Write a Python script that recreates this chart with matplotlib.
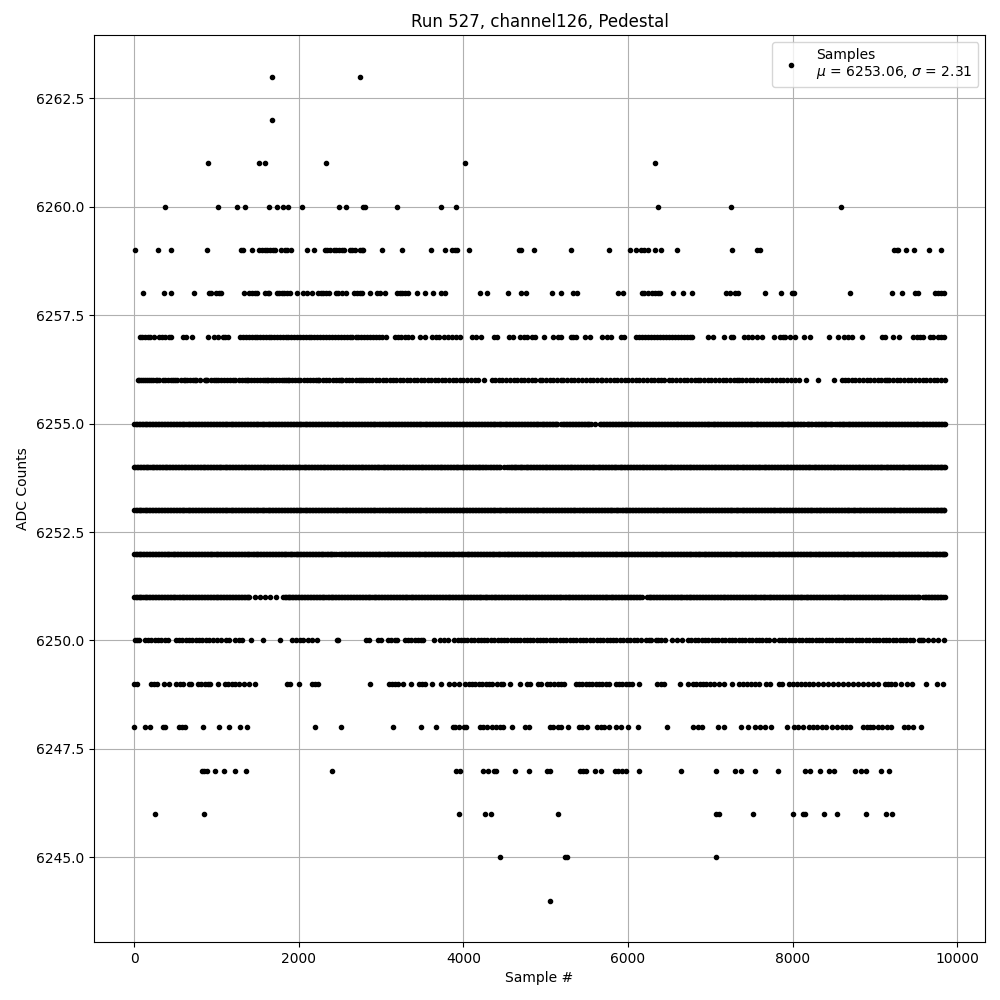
import matplotlib
matplotlib.use("Agg")
import matplotlib.pyplot as plt

# sample numbers, one list per ADC level
s6263 = [1670, 2740]
s6262 = [1670]
s6261 = [893, 1511, 1584, 2335, 4020, 6327]
s6260 = [372, 1014, 1244, 1341, 1632, 1741, 1814, 1866, 2044, 2489, 2569, 2784, 2804, 3196, 3729, 3911, 6364, 7248, 8594]
s6259 = [8, 287, 444, 881, 1297, 1325, 1426, 1519, 1551, 1584, 1616, 1648, 1681, 1713, 1778, 1830, 1862, 1903,
         2105, 2182, 2315, 2347, 2376, 2428, 2456, 2489, 2521, 2549, 2618, 2650, 2683, 2739, 2763, 2784, 3014,
         3256, 3608, 3777, 3862, 3895, 3927, 4068, 4670, 4695, 4856, 5309, 5770, 6020, 6093, 6162, 6194, 6242,
         6327, 6400, 6594, 7260, 7572, 7608, 9232, 9264, 9280, 9381, 9478, 9660, 9806]
s6258 = [105, 360, 444, 723, 905, 933, 994, 1026, 1058, 1329, 1398, 1430, 1462, 1495, 1592, 1624, 1640, 1729, 1761,
         1794, 1826, 1858, 1891, 1984, 2056, 2105, 2165, 2234, 2266, 2299, 2331, 2367, 2448, 2481, 2529, 2569, 2674,
         2707, 2739, 2771, 2860, 2945, 2982, 3050, 3196, 3228, 3260, 3289, 3329, 3438, 3531, 3632, 3729, 3781, 4202,
         4287, 4541, 4695, 4759, 5079, 5188, 5337, 5378, 5883, 5943, 6166, 6194, 6246, 6287, 6327, 6364, 6388, 6549,
         6663, 6776, 7196, 7236, 7301, 7341, 7660, 7862, 7992, 8020, 8703, 9212, 9333, 9487, 9527, 9729, 9770, 9810,
         9842]
s6257 = [65, 97, 129, 162, 186, 238, 307, 339, 372, 420, 452, 590, 630, 703, 897, 974, 1014, 1075, 1107, 1139,
         1288, 1325, 1358, 1395, 1430, 1462, 1495, 1530, 1562, 1598, 1632, 1665, 1700, 1735, 1768, 1805, 1840, 1872,
         1908, 1942, 1975, 2010, 2048, 2082, 2118, 2152, 2190, 2225, 2262, 2295, 2332, 2368, 2402, 2438, 2472, 2510,
         2545, 2580, 2618, 2652, 2690, 2725, 2760, 2798, 2832, 2870, 2905, 2940, 2978, 3015, 3062, 3163, 3204, 3244,
         3285, 3325, 3378, 3467, 3528, 3621, 3669, 3702, 3762, 3811, 3864, 3912, 3961, 4103, 4155, 4216, 4366, 4410,
         4560, 4601, 4682, 4731, 4779, 4828, 4876, 4974, 5095, 5144, 5184, 5305, 5337, 5366, 5479, 5539, 5689, 5741,
         5790, 5911, 5952, 6093, 6135, 6170, 6205, 6240, 6278, 6312, 6350, 6385, 6420, 6458, 6495, 6530, 6568, 6605,
         6640, 6680, 6715, 6750, 6780, 6974, 7030, 7172, 7256, 7277, 7406, 7454, 7507, 7568, 7628, 7770, 7850, 7883,
         7911, 7972, 8032, 8145, 8218, 8448, 8557, 8626, 8679, 8719, 8848, 9083, 9123, 9224, 9297, 9466, 9507, 9547,
         9588, 9668, 9709, 9769, 9810, 9838]
s6256 = [45, 62, 80, 110, 130, 150, 185, 205, 225, 262, 280, 300, 345, 372, 410, 452, 470, 490, 520, 565, 600, 620,
         640, 680, 712, 735, 755, 794, 855, 872, 890, 930, 975, 995, 1015, 1060, 1095, 1126, 1158, 1195, 1230, 1270,
         1305, 1345, 1365, 1385, 1420, 1455, 1490, 1525, 1560, 1590, 1608, 1625, 1660, 1690, 1720, 1755, 1790, 1820,
         1850, 1865, 1880, 1915, 1950, 1985, 2020, 2060, 2100, 2140, 2170, 2210, 2230, 2250, 2290, 2330, 2370, 2410,
         2450, 2490, 2510, 2530, 2570, 2610, 2650, 2695, 2735, 2755, 2775, 2815, 2855, 2895, 2940, 2980, 3020, 3060,
         3105, 3145, 3185, 3225, 3270, 3310, 3350, 3395, 3435, 3480, 3520, 3565, 3605, 3650, 3695, 3735, 3780, 3825,
         3872, 3912, 3955, 4000, 4050, 4095, 4140, 4176, 4248, 4350, 4390, 4435, 4475, 4520, 4565, 4610, 4650, 4695,
         4740, 4785, 4830, 4875, 4925, 4960, 5005, 5050, 5095, 5140, 5184, 5216, 5262, 5305, 5350, 5398, 5442, 5488,
         5535, 5580, 5625, 5669, 5689, 5735, 5778, 5825, 5870, 5915, 5958, 6004, 6050, 6095, 6140, 6185, 6228, 6275,
         6320, 6365, 6405, 6436, 6497, 6540, 6585, 6632, 6678, 6722, 6765, 6810, 6855, 6881, 6921, 6968, 7012, 7058,
         7105, 7150, 7195, 7240, 7285, 7330, 7345, 7386, 7432, 7478, 7525, 7570, 7615, 7660, 7705, 7750, 7795, 7842,
         7888, 7935, 7980, 8025, 8073, 8165, 8311, 8509, 8598, 8640, 8679, 8719, 8765, 8810, 8855, 8900, 8945, 8990,
         9035, 9080, 9125, 9143, 9175, 9220, 9265, 9310, 9355, 9400, 9445, 9490, 9535, 9580, 9625, 9670, 9715, 9760,
         9805, 9850]
s6255 = [0, 38, 70, 108, 142, 178, 215, 250, 288, 322, 360, 395, 430, 468, 502, 540, 575, 610, 648, 682, 720, 755,
         790, 828, 862, 900, 935, 970, 1008, 1042, 1080, 1115, 1150, 1188, 1222, 1260, 1295, 1330, 1368, 1402, 1440,
         1475, 1510, 1548, 1582, 1620, 1655, 1690, 1728, 1762, 1800, 1835, 1870, 1908, 1942, 1980, 2015, 2050, 2088,
         2122, 2160, 2195, 2230, 2268, 2302, 2340, 2375, 2410, 2448, 2482, 2520, 2555, 2590, 2628, 2662, 2700, 2735,
         2770, 2808, 2842, 2880, 2915, 2950, 2988, 3022, 3060, 3095, 3130, 3168, 3202, 3240, 3275, 3310, 3348, 3382,
         3420, 3455, 3490, 3528, 3562, 3600, 3635, 3670, 3708, 3742, 3780, 3815, 3850, 3888, 3922, 3960, 3995, 4030,
         4068, 4102, 4140, 4175, 4210, 4248, 4282, 4320, 4355, 4390, 4428, 4462, 4500, 4535, 4570, 4608, 4642, 4680,
         4715, 4750, 4788, 4822, 4860, 4895, 4930, 4968, 5002, 5040, 5075, 5110, 5143, 5190, 5228, 5262, 5300, 5335,
         5370, 5408, 5442, 5480, 5515, 5548, 5600, 5661, 5695, 5730, 5768, 5802, 5840, 5875, 5910, 5948, 5982, 6020,
         6055, 6090, 6128, 6162, 6200, 6235, 6270, 6308, 6342, 6380, 6415, 6450, 6488, 6522, 6560, 6595, 6630, 6668,
         6702, 6740, 6775, 6810, 6848, 6882, 6920, 6955, 6990, 7028, 7062, 7100, 7135, 7170, 7208, 7242, 7280, 7315,
         7350, 7388, 7422, 7460, 7495, 7530, 7568, 7602, 7640, 7675, 7710, 7748, 7782, 7820, 7855, 7890, 7928, 7962,
         8000, 8035, 8070, 8108, 8142, 8170, 8205, 8240, 8270, 8305, 8340, 8378, 8412, 8450, 8485, 8512, 8560, 8595,
         8630, 8668, 8702, 8740, 8775, 8810, 8848, 8882, 8920, 8955, 8990, 9028, 9062, 9100, 9135, 9170, 9208, 9242,
         9280, 9315, 9350, 9388, 9422, 9460, 9495, 9530, 9568, 9602, 9640, 9675, 9710, 9748, 9782, 9820, 9848]
s6255b = [18, 55, 90, 125, 160, 196, 232, 268, 305, 340, 378, 412, 450, 485, 520, 558, 592, 630, 665, 702, 738, 772,
          810, 845, 880, 918, 952, 990, 1025, 1062, 1098, 1132, 1170, 1205, 1242, 1278, 1312, 1350, 1385, 1422, 1458,
          1492, 1530, 1565, 1602, 1638, 1672, 1710, 1745, 1782, 1818, 1852, 1890, 1925, 1962, 1998, 2032, 2070, 2105,
          2142, 2178, 2212, 2250, 2285, 2322, 2358, 2392, 2430, 2465, 2502, 2538, 2572, 2610, 2645, 2682, 2718, 2752,
          2790, 2825, 2862, 2898, 2932, 2970, 3005, 3042, 3078, 3112, 3150, 3185, 3222, 3258, 3292, 3330, 3365, 3402,
          3438, 3472, 3510, 3545, 3582, 3618, 3652, 3690, 3725, 3762, 3798, 3832, 3870, 3905, 3942, 3978, 4012, 4050,
          4085, 4122, 4158, 4192, 4230, 4265, 4302, 4338, 4372, 4410, 4445, 4482, 4518, 4552, 4590, 4625, 4662, 4698,
          4732, 4770, 4805, 4842, 4878, 4912, 4950, 4985, 5022, 5058, 5092, 5126, 5210, 5245, 5282, 5318, 5352, 5390,
          5425, 5462, 5498, 5532, 5678, 5712, 5750, 5785, 5822, 5858, 5892, 5930, 5965, 6002, 6038, 6072, 6110, 6145,
          6182, 6218, 6252, 6290, 6325, 6362, 6398, 6432, 6470, 6505, 6542, 6578, 6612, 6650, 6685, 6722, 6758, 6792,
          6830, 6865, 6902, 6938, 6972, 7010, 7045, 7082, 7118, 7152, 7190, 7225, 7262, 7298, 7332, 7370, 7405, 7442,
          7478, 7512, 7550, 7585, 7622, 7658, 7692, 7730, 7765, 7802, 7838, 7872, 7910, 7945, 7982, 8018, 8052, 8090,
          8125, 8188, 8222, 8288, 8322, 8358, 8395, 8430, 8468, 8535, 8578, 8612, 8650, 8685, 8722, 8758, 8792, 8830,
          8865, 8902, 8938, 8972, 9010, 9045, 9082, 9118, 9152, 9190, 9225, 9262, 9298, 9332, 9370, 9405, 9442, 9478,
          9512, 9550, 9585, 9622, 9658, 9692, 9730, 9765, 9802, 9835]
s6254 = [0, 32, 68, 105, 140, 172, 210, 245, 280, 315, 352, 388, 420, 458, 492, 528, 565, 600, 632, 670, 705, 740,
         778, 812, 848, 885, 920, 952, 990, 1025, 1060, 1098, 1132, 1168, 1205, 1240, 1272, 1310, 1345, 1380, 1418,
         1452, 1488, 1525, 1560, 1592, 1630, 1665, 1700, 1738, 1772, 1808, 1845, 1880, 1912, 1950, 1985, 2020, 2058,
         2092, 2128, 2165, 2200, 2232, 2270, 2305, 2340, 2378, 2412, 2448, 2485, 2520, 2552, 2590, 2625, 2660, 2698,
         2732, 2768, 2805, 2840, 2872, 2910, 2945, 2980, 3018, 3052, 3088, 3125, 3160, 3192, 3230, 3265, 3300, 3338,
         3372, 3408, 3445, 3480, 3512, 3550, 3585, 3620, 3658, 3692, 3728, 3765, 3800, 3832, 3870, 3905, 3940, 3978,
         4012, 4048, 4085, 4120, 4152, 4190, 4225, 4260, 4298, 4340, 4375, 4410, 4445, 4490, 4530, 4575, 4610, 4645,
         4682, 4718, 4755, 4790, 4825, 4860, 4898, 4932, 4968, 5005, 5040, 5075, 5110, 5148, 5182, 5218, 5255, 5290,
         5325, 5360, 5398, 5432, 5468, 5505, 5540, 5575, 5610, 5648, 5682, 5718, 5755, 5790, 5825, 5860, 5898, 5932,
         5968, 6005, 6040, 6075, 6110, 6148, 6182, 6218, 6255, 6290, 6325, 6360, 6398, 6432, 6468, 6505, 6540, 6575,
         6610, 6648, 6682, 6718, 6755, 6790, 6825, 6860, 6898, 6932, 6968, 7005, 7040, 7075, 7110, 7148, 7182, 7218,
         7255, 7290, 7325, 7360, 7398, 7432, 7468, 7505, 7540, 7575, 7610, 7648, 7682, 7718, 7755, 7790, 7825, 7860,
         7898, 7932, 7968, 8005, 8040, 8075, 8110, 8148, 8182, 8218, 8255, 8290, 8325, 8360, 8398, 8432, 8468, 8505,
         8540, 8575, 8610, 8648, 8682, 8718, 8755, 8790, 8825, 8860, 8898, 8932, 8968, 9005, 9040, 9075, 9110, 9148,
         9182, 9218, 9255, 9290, 9325, 9360, 9398, 9432, 9468, 9505, 9540, 9575, 9610, 9648, 9682, 9718, 9755, 9790,
         9820, 9848]
s6254b = [15, 50, 86, 122, 156, 190, 228, 262, 298, 334, 370, 404, 440, 475, 510, 546, 582, 616, 652, 688, 722, 758,
          795, 830, 866, 902, 936, 972, 1008, 1042, 1080, 1115, 1150, 1186, 1222, 1256, 1292, 1328, 1362, 1400, 1435,
          1470, 1506, 1542, 1576, 1612, 1648, 1682, 1720, 1755, 1790, 1826, 1862, 1896, 1932, 1968, 2002, 2040, 2075,
          2110, 2146, 2182, 2216, 2252, 2288, 2322, 2360, 2395, 2430, 2466, 2502, 2536, 2572, 2608, 2642, 2680, 2715,
          2750, 2786, 2822, 2856, 2892, 2928, 2962, 3000, 3035, 3070, 3106, 3142, 3176, 3212, 3248, 3282, 3320, 3355,
          3390, 3426, 3462, 3496, 3532, 3568, 3602, 3640, 3675, 3710, 3746, 3782, 3816, 3852, 3888, 3922, 3960, 3995,
          4030, 4066, 4102, 4136, 4172, 4208, 4242, 4280, 4318, 4356, 4392, 4428, 4552, 4592, 4628, 4664, 4700, 4736,
          4772, 4808, 4842, 4880, 4915, 4950, 4986, 5022, 5058, 5092, 5130, 5165, 5200, 5236, 5272, 5308, 5342, 5380,
          5415, 5450, 5486, 5522, 5558, 5592, 5630, 5665, 5700, 5736, 5772, 5808, 5842, 5880, 5915, 5950, 5986, 6022,
          6058, 6092, 6130, 6165, 6200, 6236, 6272, 6308, 6342, 6380, 6415, 6450, 6486, 6522, 6558, 6592, 6630, 6665,
          6700, 6736, 6772, 6808, 6842, 6880, 6915, 6950, 6986, 7022, 7058, 7092, 7130, 7165, 7200, 7236, 7272, 7308,
          7342, 7380, 7415, 7450, 7486, 7522, 7558, 7592, 7630, 7665, 7700, 7736, 7772, 7808, 7842, 7880, 7915, 7950,
          7986, 8022, 8058, 8092, 8130, 8165, 8200, 8236, 8272, 8308, 8342, 8380, 8415, 8450, 8486, 8522, 8558, 8592,
          8630, 8665, 8700, 8736, 8772, 8808, 8842, 8880, 8915, 8950, 8986, 9022, 9058, 9092, 9130, 9165, 9200, 9236,
          9272, 9308, 9342, 9380, 9415, 9450, 9486, 9522, 9558, 9592, 9630, 9665, 9700, 9736, 9772, 9806, 9835]
s6253 = [0, 36, 72, 106, 144, 178, 216, 250, 288, 324, 358, 396, 430, 468, 502, 540, 576, 610, 648, 682, 720, 756,
         790, 828, 862, 900, 936, 970, 1008, 1042, 1080, 1116, 1150, 1188, 1222, 1260, 1296, 1330, 1368, 1402, 1440,
         1476, 1510, 1548, 1582, 1620, 1656, 1690, 1728, 1762, 1800, 1836, 1870, 1908, 1942, 1980, 2016, 2050, 2088,
         2122, 2160, 2196, 2230, 2268, 2302, 2340, 2376, 2410, 2448, 2482, 2520, 2556, 2590, 2628, 2662, 2700, 2736,
         2770, 2808, 2842, 2880, 2916, 2950, 2988, 3022, 3060, 3096, 3130, 3168, 3202, 3240, 3276, 3310, 3348, 3382,
         3420, 3456, 3490, 3528, 3562, 3600, 3636, 3670, 3708, 3742, 3780, 3816, 3850, 3888, 3922, 3960, 3996, 4030,
         4068, 4102, 4140, 4176, 4210, 4248, 4282, 4320, 4356, 4390, 4428, 4462, 4500, 4536, 4570, 4608, 4642, 4680,
         4716, 4750, 4788, 4822, 4860, 4896, 4930, 4968, 5002, 5040, 5076, 5110, 5148, 5182, 5220, 5256, 5290, 5328,
         5362, 5400, 5436, 5470, 5508, 5542, 5580, 5616, 5650, 5688, 5722, 5760, 5796, 5830, 5868, 5902, 5940, 5976,
         6010, 6048, 6082, 6120, 6156, 6190, 6228, 6262, 6300, 6336, 6370, 6408, 6442, 6480, 6516, 6550, 6588, 6622,
         6660, 6696, 6730, 6768, 6802, 6840, 6876, 6910, 6948, 6982, 7020, 7056, 7090, 7128, 7162, 7200, 7236, 7270,
         7308, 7342, 7380, 7416, 7450, 7488, 7522, 7560, 7596, 7630, 7668, 7702, 7740, 7776, 7810, 7848, 7882, 7920,
         7956, 7990, 8028, 8062, 8100, 8136, 8170, 8208, 8242, 8280, 8316, 8350, 8388, 8422, 8460, 8496, 8530, 8568,
         8602, 8640, 8676, 8710, 8748, 8782, 8820, 8856, 8890, 8928, 8962, 9000, 9036, 9070, 9108, 9142, 9180, 9216,
         9250, 9288, 9322, 9360, 9396, 9430, 9468, 9502, 9540, 9576, 9610, 9648, 9682, 9720, 9756, 9790, 9822, 9846]
s6253b = [20, 54, 88, 125, 160, 197, 232, 268, 306, 340, 377, 412, 450, 485, 520, 558, 592, 630, 665, 702, 738, 772,
          810, 845, 882, 918, 952, 990, 1025, 1062, 1098, 1132, 1170, 1205, 1242, 1278, 1312, 1350, 1385, 1422, 1458,
          1492, 1530, 1565, 1602, 1638, 1672, 1710, 1745, 1782, 1818, 1852, 1890, 1925, 1962, 1998, 2032, 2070, 2105,
          2142, 2178, 2212, 2250, 2285, 2322, 2358, 2392, 2430, 2465, 2502, 2538, 2572, 2610, 2645, 2682, 2718, 2752,
          2790, 2825, 2862, 2898, 2932, 2970, 3005, 3042, 3078, 3112, 3150, 3185, 3222, 3258, 3292, 3330, 3365, 3402,
          3438, 3472, 3510, 3545, 3582, 3618, 3652, 3690, 3725, 3762, 3798, 3832, 3870, 3905, 3942, 3978, 4012, 4050,
          4085, 4122, 4158, 4192, 4230, 4265, 4302, 4338, 4372, 4410, 4445, 4482, 4518, 4552, 4590, 4625, 4662, 4698,
          4732, 4770, 4805, 4842, 4878, 4912, 4950, 4985, 5022, 5058, 5092, 5130, 5165, 5202, 5238, 5272, 5310, 5345,
          5382, 5418, 5452, 5490, 5525, 5562, 5598, 5632, 5670, 5705, 5742, 5778, 5812, 5850, 5885, 5922, 5958, 5992,
          6030, 6065, 6102, 6138, 6172, 6210, 6245, 6282, 6318, 6352, 6390, 6425, 6462, 6498, 6532, 6570, 6605, 6642,
          6678, 6712, 6750, 6785, 6822, 6858, 6892, 6930, 6965, 7002, 7038, 7072, 7110, 7145, 7182, 7218, 7252, 7290,
          7325, 7362, 7398, 7432, 7470, 7505, 7542, 7578, 7612, 7650, 7685, 7722, 7758, 7792, 7830, 7865, 7902, 7938,
          7972, 8010, 8045, 8082, 8118, 8152, 8190, 8225, 8262, 8298, 8332, 8370, 8405, 8442, 8478, 8512, 8550, 8585,
          8622, 8658, 8692, 8730, 8765, 8802, 8838, 8872, 8910, 8945, 8982, 9018, 9052, 9090, 9125, 9162, 9198, 9232,
          9270, 9305, 9342, 9378, 9412, 9450, 9485, 9522, 9558, 9592, 9630, 9665, 9702, 9738, 9772, 9808, 9835]
s6252 = [0, 34, 70, 104, 142, 176, 214, 248, 286, 322, 356, 394, 428, 466, 500, 538, 574, 608, 646, 680, 718, 754,
         788, 826, 860, 898, 934, 968, 1006, 1040, 1078, 1114, 1148, 1186, 1220, 1258, 1294, 1328, 1366, 1400, 1438,
         1474, 1508, 1546, 1580, 1618, 1654, 1688, 1726, 1760, 1798, 1834, 1868, 1906, 1940, 1978, 2014, 2048, 2086,
         2120, 2158, 2194, 2228, 2266, 2300, 2338, 2374, 2408, 2446, 2490, 2526, 2560, 2598, 2632, 2670, 2706, 2740,
         2778, 2812, 2850, 2886, 2920, 2958, 2992, 3030, 3066, 3100, 3138, 3172, 3210, 3246, 3280, 3318, 3352, 3390,
         3426, 3460, 3498, 3532, 3570, 3606, 3640, 3678, 3712, 3750, 3786, 3820, 3858, 3892, 3930, 3966, 4000, 4038,
         4072, 4110, 4146, 4180, 4218, 4252, 4290, 4326, 4360, 4398, 4432, 4470, 4506, 4540, 4578, 4612, 4650, 4686,
         4720, 4758, 4792, 4830, 4866, 4900, 4938, 4972, 5010, 5046, 5080, 5118, 5152, 5190, 5226, 5260, 5298, 5332,
         5370, 5406, 5440, 5478, 5512, 5550, 5586, 5620, 5658, 5692, 5730, 5766, 5800, 5838, 5872, 5910, 5946, 5980,
         6018, 6052, 6090, 6126, 6160, 6198, 6232, 6270, 6306, 6340, 6378, 6412, 6450, 6486, 6520, 6558, 6592, 6630,
         6666, 6700, 6738, 6772, 6810, 6846, 6880, 6918, 6952, 6990, 7026, 7060, 7098, 7132, 7170, 7206, 7240, 7278,
         7312, 7350, 7386, 7420, 7458, 7492, 7530, 7566, 7600, 7638, 7672, 7710, 7746, 7780, 7818, 7852, 7890, 7926,
         7960, 7998, 8032, 8070, 8106, 8140, 8178, 8212, 8250, 8286, 8320, 8358, 8392, 8430, 8466, 8500, 8538, 8572,
         8610, 8646, 8680, 8718, 8752, 8790, 8826, 8860, 8898, 8932, 8970, 9006, 9040, 9078, 9112, 9150, 9186, 9220,
         9258, 9292, 9330, 9366, 9400, 9438, 9472, 9510, 9546, 9580, 9618, 9652, 9690, 9726, 9760, 9798, 9826, 9850]
s6252b = [16, 52, 87, 122, 158, 195, 230, 266, 304, 338, 375, 410, 448, 482, 518, 556, 590, 628, 662, 700, 736, 770,
          808, 842, 880, 916, 950, 988, 1022, 1060, 1096, 1130, 1168, 1202, 1240, 1276, 1310, 1348, 1382, 1420, 1456,
          1490, 1528, 1562, 1600, 1636, 1670, 1708, 1742, 1780, 1816, 1850, 1888, 1922, 1960, 1996, 2030, 2068, 2102,
          2140, 2176, 2210, 2248, 2282, 2320, 2356, 2390, 2428, 2508, 2544, 2578, 2616, 2650, 2688, 2724, 2758, 2796,
          2830, 2868, 2904, 2938, 2976, 3010, 3048, 3084, 3118, 3156, 3190, 3228, 3264, 3298, 3336, 3370, 3408, 3444,
          3478, 3516, 3550, 3588, 3624, 3658, 3696, 3730, 3768, 3804, 3838, 3876, 3910, 3948, 3984, 4018, 4056, 4090,
          4128, 4164, 4198, 4236, 4270, 4308, 4344, 4378, 4416, 4450, 4488, 4524, 4558, 4596, 4630, 4668, 4704, 4738,
          4776, 4810, 4848, 4884, 4918, 4956, 4990, 5028, 5064, 5098, 5136, 5170, 5208, 5244, 5278, 5316, 5350, 5388,
          5424, 5458, 5496, 5530, 5568, 5604, 5638, 5676, 5710, 5748, 5784, 5818, 5856, 5890, 5928, 5964, 5998, 6036,
          6070, 6108, 6144, 6178, 6216, 6250, 6288, 6324, 6358, 6396, 6430, 6468, 6504, 6538, 6576, 6610, 6648, 6684,
          6718, 6756, 6790, 6828, 6864, 6898, 6936, 6970, 7008, 7044, 7078, 7116, 7150, 7188, 7224, 7258, 7296, 7330,
          7368, 7404, 7438, 7476, 7510, 7548, 7584, 7618, 7656, 7690, 7728, 7764, 7798, 7836, 7870, 7908, 7944, 7978,
          8016, 8050, 8088, 8124, 8158, 8196, 8230, 8268, 8304, 8338, 8376, 8410, 8448, 8484, 8518, 8556, 8590, 8628,
          8664, 8698, 8736, 8770, 8808, 8844, 8878, 8916, 8950, 8988, 9024, 9058, 9096, 9130, 9168, 9204, 9238, 9276,
          9310, 9348, 9384, 9418, 9456, 9490, 9528, 9564, 9598, 9636, 9670, 9708, 9744, 9778, 9812, 9838]
s6251 = [0, 35, 71, 106, 143, 177, 215, 249, 287, 323, 357, 395, 429, 467, 501, 539, 575, 609, 647, 681, 719, 755,
         789, 827, 861, 899, 935, 969, 1007, 1041, 1079, 1115, 1149, 1187, 1221, 1259, 1295, 1329, 1367, 1400, 1462,
         1523, 1584, 1644, 1721, 1810, 1846, 1880, 1918, 1952, 1990, 2026, 2060, 2098, 2132, 2170, 2206, 2240, 2278,
         2312, 2350, 2386, 2420, 2458, 2492, 2530, 2566, 2600, 2638, 2672, 2710, 2746, 2780, 2818, 2852, 2890, 2926,
         2960, 2998, 3032, 3070, 3106, 3140, 3178, 3212, 3250, 3286, 3320, 3358, 3392, 3430, 3466, 3500, 3538, 3572,
         3610, 3646, 3680, 3718, 3752, 3790, 3826, 3860, 3898, 3932, 3970, 4006, 4040, 4078, 4112, 4150, 4186, 4220,
         4258, 4292, 4330, 4366, 4400, 4438, 4472, 4510, 4546, 4580, 4618, 4652, 4690, 4726, 4760, 4798, 4832, 4870,
         4906, 4940, 4978, 5012, 5050, 5086, 5120, 5158, 5192, 5230, 5266, 5300, 5338, 5372, 5410, 5446, 5480, 5518,
         5552, 5590, 5626, 5660, 5698, 5732, 5770, 5806, 5840, 5878, 5912, 5950, 5986, 6020, 6058, 6092, 6130, 6174,
         6234, 6268, 6302, 6340, 6376, 6410, 6448, 6482, 6520, 6556, 6590, 6628, 6662, 6700, 6736, 6770, 6808, 6842,
         6880, 6916, 6950, 6988, 7022, 7060, 7096, 7130, 7168, 7202, 7240, 7276, 7310, 7348, 7382, 7420, 7456, 7490,
         7528, 7562, 7600, 7636, 7670, 7708, 7742, 7780, 7816, 7850, 7888, 7922, 7960, 7996, 8030, 8068, 8102, 8140,
         8176, 8210, 8248, 8282, 8320, 8356, 8390, 8428, 8462, 8500, 8536, 8570, 8608, 8642, 8680, 8716, 8750, 8788,
         8822, 8860, 8896, 8930, 8968, 9002, 9040, 9076, 9110, 9148, 9182, 9220, 9256, 9290, 9328, 9362, 9400, 9436,
         9470, 9508, 9542, 9590, 9625, 9660, 9698, 9732, 9770, 9806, 9848]
s6251b = [17, 53, 88, 125, 160, 196, 232, 268, 305, 340, 376, 412, 448, 484, 520, 557, 592, 628, 664, 700, 737, 772,
          808, 844, 880, 917, 952, 988, 1024, 1060, 1097, 1132, 1168, 1204, 1240, 1277, 1312, 1348, 1384, 1828, 1863,
          1899, 1935, 1971, 2008, 2043, 2079, 2115, 2151, 2188, 2223, 2259, 2295, 2331, 2368, 2403, 2439, 2475, 2511,
          2548, 2583, 2619, 2655, 2691, 2728, 2763, 2799, 2835, 2871, 2908, 2943, 2979, 3015, 3051, 3088, 3123, 3159,
          3195, 3231, 3268, 3303, 3339, 3375, 3411, 3448, 3483, 3519, 3555, 3591, 3628, 3663, 3699, 3735, 3771, 3808,
          3843, 3879, 3915, 3951, 3988, 4023, 4059, 4095, 4131, 4168, 4203, 4239, 4275, 4311, 4348, 4383, 4419, 4455,
          4491, 4528, 4563, 4599, 4635, 4671, 4708, 4743, 4779, 4815, 4851, 4888, 4923, 4959, 4995, 5031, 5068, 5103,
          5139, 5175, 5211, 5248, 5283, 5319, 5355, 5391, 5428, 5463, 5499, 5535, 5571, 5608, 5643, 5679, 5715, 5751,
          5788, 5823, 5859, 5895, 5931, 5968, 6003, 6039, 6075, 6111, 6152, 6251, 6285, 6321, 6358, 6393, 6429, 6465,
          6501, 6538, 6573, 6609, 6645, 6681, 6718, 6753, 6789, 6825, 6861, 6898, 6933, 6969, 7005, 7041, 7078, 7113,
          7149, 7185, 7221, 7258, 7293, 7329, 7365, 7401, 7438, 7473, 7509, 7545, 7581, 7618, 7653, 7689, 7725, 7761,
          7798, 7833, 7869, 7905, 7941, 7978, 8013, 8049, 8085, 8121, 8158, 8193, 8229, 8265, 8301, 8338, 8373, 8409,
          8445, 8481, 8518, 8553, 8589, 8625, 8661, 8698, 8733, 8769, 8805, 8841, 8878, 8913, 8949, 8985, 9021, 9058,
          9093, 9129, 9165, 9201, 9238, 9273, 9309, 9345, 9381, 9418, 9453, 9489, 9525, 9607, 9642, 9679, 9715, 9751,
          9788, 9825]
s6250 = [12, 32, 57, 126, 166, 207, 247, 288, 328, 369, 409, 502, 543, 583, 624, 664, 705, 745, 786, 826, 867, 907,
         956, 1004, 1057, 1110, 1150, 1219, 1272, 1312, 1418, 1563, 1770, 1912, 1960, 2009, 2057, 2110, 2163, 2219,
         2462, 2475, 2819, 2859, 2960, 2993, 3082, 3123, 3163, 3191, 3285, 3325, 3366, 3406, 3447, 3487, 3515, 3649,
         3710, 3770, 3811, 3892, 3932, 3970, 4012, 4050, 4092, 4130, 4172, 4210, 4255, 4292, 4335, 4372, 4415, 4452,
         4495, 4532, 4575, 4612, 4655, 4692, 4735, 4772, 4815, 4852, 4895, 4925, 4965, 5005, 5048, 5088, 5128, 5170,
         5210, 5250, 5292, 5332, 5372, 5415, 5455, 5495, 5538, 5578, 5618, 5660, 5700, 5740, 5782, 5822, 5850, 5903,
         5945, 5985, 6028, 6068, 6108, 6154, 6214, 6250, 6283, 6335, 6365, 6396, 6456, 6537, 6590, 6658, 6731, 6772,
         6815, 6855, 6895, 6938, 6978, 7018, 7060, 7100, 7140, 7182, 7222, 7262, 7305, 7345, 7385, 7428, 7468, 7508,
         7550, 7590, 7630, 7672, 7712, 7770, 7830, 7870, 7912, 7952, 7992, 8035, 8075, 8115, 8158, 8198, 8238, 8280,
         8320, 8360, 8402, 8442, 8482, 8525, 8565, 8605, 8648, 8688, 8728, 8770, 8810, 8850, 8892, 8932, 8972, 9015,
         9055, 9095, 9138, 9178, 9218, 9260, 9300, 9340, 9382, 9422, 9466, 9535, 9560, 9588, 9648, 9709, 9769, 9842]
s6249 = [0, 32, 207, 239, 275, 360, 421, 510, 551, 591, 664, 693, 774, 814, 855, 895, 923, 1017, 1102, 1142, 1183,
         1219, 1272, 1332, 1393, 1466, 1855, 1895, 2001, 2159, 2199, 2232, 2863, 3094, 3135, 3175, 3204, 3264, 3366,
         3455, 3495, 3536, 3617, 3726, 3831, 3884, 3945, 4018, 4066, 4107, 4147, 4188, 4228, 4269, 4309, 4350, 4406,
         4459, 4479, 4568, 4690, 4771, 4811, 4904, 4942, 5014, 5055, 5103, 5144, 5184, 5224, 5366, 5406, 5447, 5487,
         5528, 5568, 5608, 5649, 5689, 5729, 5770, 5850, 5891, 5931, 5972, 6012, 6053, 6129, 6347, 6396, 6436, 6630,
         6727, 6792, 6832, 6873, 6913, 6953, 7002, 7050, 7103, 7164, 7269, 7345, 7394, 7446, 7495, 7547, 7596, 7681,
         7721, 7830, 7871, 7951, 8000, 8052, 8101, 8153, 8206, 8254, 8315, 8376, 8436, 8497, 8557, 8618, 8679, 8739,
         8800, 8861, 8921, 8982, 9042, 9123, 9163, 9192, 9248, 9321, 9386, 9446, 9620, 9757, 9834]
s6248 = [0, 126, 190, 348, 377, 543, 575, 620, 834, 1029, 1150, 1284, 1369, 2195, 2511, 3143, 3483, 3665, 3872, 3904,
         3945, 4010, 4026, 4204, 4244, 4285, 4350, 4398, 4447, 4487, 4589, 4747, 4795, 5055, 5095, 5144, 5192, 5273,
         5406, 5447, 5507, 5628, 5669, 5709, 5766, 5859, 5911, 6000, 6121, 6473, 6788, 6848, 6897, 7091, 7164, 7370,
         7454, 7547, 7600, 7669, 7742, 7927, 8020, 8061, 8133, 8206, 8254, 8303, 8355, 8408, 8477, 8537, 8598, 8650,
         8703, 8860, 8901, 8941, 8982, 9042, 9083, 9143, 9192, 9357, 9406, 9467, 9563]
s6247 = [818, 842, 887, 980, 1089, 1223, 1357, 2402, 3912, 3953, 4244, 4301, 4378, 4398, 4625, 4795, 5014, 5047, 5418,
         5459, 5491, 5600, 5677, 5842, 5879, 5931, 5980, 6133, 6642, 7067, 7301, 7370, 7539, 7818, 8153, 8214, 8339,
         8448, 8505, 8759, 8828, 8889, 9070, 9176]
s6246 = [251, 846, 3945, 4261, 4337, 5152, 7067, 7107, 7515, 8000, 8133, 8157, 8388, 8546, 8897, 9139, 9212]
s6245 = [4443, 5240, 5257, 7067]
s6244 = [5047]

levels = [6263, 6262, 6261, 6260, 6259, 6258, 6257, 6256, 6255, 6255, 6254, 6254, 6253, 6253, 6252, 6252, 6251, 6251,
          6250, 6249, 6248, 6247, 6246, 6245, 6244]
samples = [s6263, s6262, s6261, s6260, s6259, s6258, s6257, s6256, s6255, s6255b, s6254, s6254b, s6253, s6253b, s6252,
           s6252b, s6251, s6251b, s6250, s6249, s6248, s6247, s6246, s6245, s6244]

x = []
y = []
for level, xs in zip(levels, samples):
    x.extend(xs)
    y.extend([level] * len(xs))

plt.figure(figsize=(10, 10))
plt.plot(x, y, 'k.', label='Samples\n$\\mu$ = 6253.06, $\\sigma$ = 2.31')
plt.title('Run 527, channel126, Pedestal')
plt.xlabel('Sample #')
plt.ylabel('ADC Counts')
plt.legend(loc='upper right')
plt.grid(True)
plt.subplots_adjust(left=0.0937, right=0.9853, top=0.9647, bottom=0.058)
plt.savefig('out.png', dpi=100)
plt.close()
